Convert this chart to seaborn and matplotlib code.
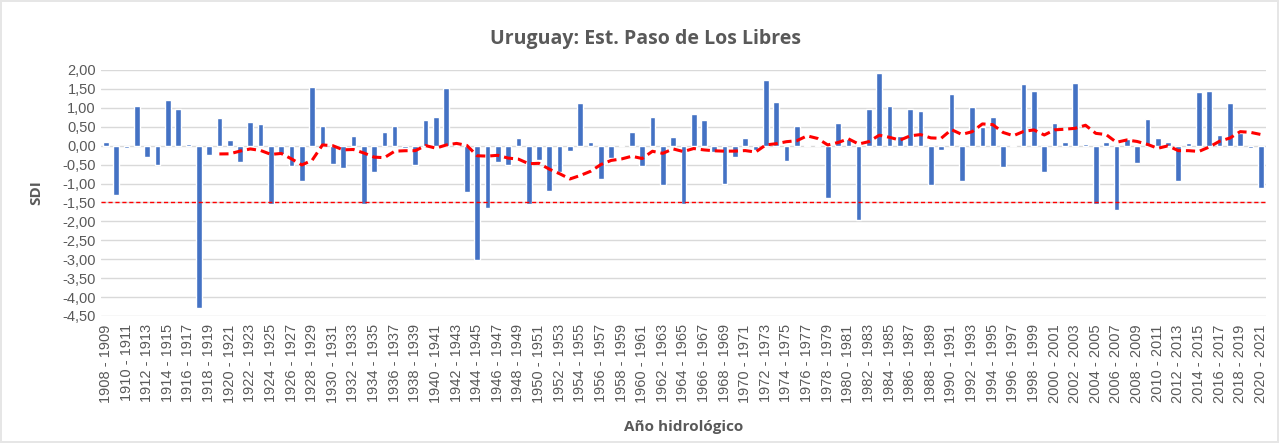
import numpy as np
import pandas as pd
import seaborn as sns
import matplotlib.pyplot as plt
from matplotlib.ticker import FuncFormatter

# SDI por año hidrológico (1908-1909 ... 2020-2021)
start_years = list(range(1908, 2021))
sdi = [
    0.11, -1.30, -0.07, 1.05, -0.30, -0.52, 1.21, 0.97, 0.05, -4.30,
    -0.25, 0.73, 0.15, -0.44, 0.62, 0.56, -1.54, -0.22, -0.53, -0.94,
    1.56, 0.53, -0.48, -0.59, 0.26, -1.54, -0.69, 0.37, 0.52, -0.07,
    -0.51, 0.67, 0.75, 1.53, 0.02, -1.22, -3.03, -1.64, -0.44, -0.51,
    0.19, -1.53, -0.38, -1.19, -0.69, -0.13, 1.12, 0.11, -0.89, -0.33,
    0.02, 0.35, -0.53, 0.77, -1.04, 0.22, -1.53, 0.83, 0.68, -0.17,
    -1.01, -0.31, 0.19, -0.12, 1.74, 1.15, -0.40, 0.53, 0.01, 0.02,
    -1.39, 0.59, 0.17, -1.97, 0.97, 1.91, 1.06, 0.26, 0.97, 0.92,
    -1.04, -0.11, 1.36, -0.93, 1.03, 0.50, 0.75, -0.57, 0.02, 1.62,
    1.45, -0.69, 0.59, 0.09, 1.65, 0.04, -1.54, 0.11, -1.70, 0.17,
    -0.45, 0.71, 0.19, 0.09, -0.93, 0.08, 1.41, 1.45, 0.28, 1.12,
    0.33, -0.05, -1.13,
]
labels = [f"{y} - {y + 1}" for y in start_years]
threshold = -1.5
ma_window = 12

df = pd.DataFrame({"anio": labels, "sdi": sdi})
df["pos"] = np.arange(len(df))
# media móvil de 12 períodos, como la línea de tendencia del original
df["media_movil"] = df["sdi"].rolling(ma_window).mean()

sns.set_style("white")
plt.rcParams["font.family"] = ["Liberation Sans", "DejaVu Sans"]

fig = plt.figure(figsize=(12.79, 4.43), dpi=100)
fig.patch.set_edgecolor("#e6e6e6")
fig.patch.set_linewidth(1.5)
ax = fig.add_axes([0.0788, 0.2867, 0.911, 0.5553])

sns.barplot(data=df, x="anio", y="sdi", color="#4472C4", width=0.55,
            saturation=1, ax=ax, zorder=3)
sns.lineplot(data=df.dropna(), x="pos", y="media_movil", color="#FF0000",
             linewidth=2.2, linestyle=(0, (3, 1.6)), ax=ax, zorder=4)
ax.axhline(threshold, color="#FF0000", linewidth=1, linestyle=(0, (3, 2)), zorder=4)

ax.set_xlim(-0.5, len(df) - 0.5)
ax.set_ylim(-4.5, 2.0)
ax.set_yticks(np.arange(-4.5, 2.01, 0.5))
ax.yaxis.set_major_formatter(FuncFormatter(lambda v, p: f"{v:.2f}".replace(".", ",")))
ax.set_xticks(df["pos"][::2])
ax.set_xticklabels(labels[::2], rotation=90)
ax.tick_params(axis="both", length=0, colors="#595959", labelsize=10.5)
ax.tick_params(axis="x", pad=6)
ax.grid(axis="y", color="#d9d9d9", linewidth=1, zorder=0)
ax.set_axisbelow(True)
for s in ax.spines.values():
    s.set_visible(False)

ax.set_xlabel("Año hidrológico", fontsize=11, fontweight="bold", color="#595959",
              family=["Open Sans", "DejaVu Sans"], labelpad=12)
ax.set_ylabel("SDI", fontsize=11, fontweight="bold", color="#595959",
              family=["Open Sans", "DejaVu Sans"], labelpad=14)
fig.suptitle("Uruguay: Est. Paso de Los Libres", x=0.505, y=0.935, fontsize=14,
             fontweight="bold", color="#595959", family=["Open Sans", "DejaVu Sans"])

fig.savefig("out.png", dpi=100, edgecolor=fig.get_edgecolor())
